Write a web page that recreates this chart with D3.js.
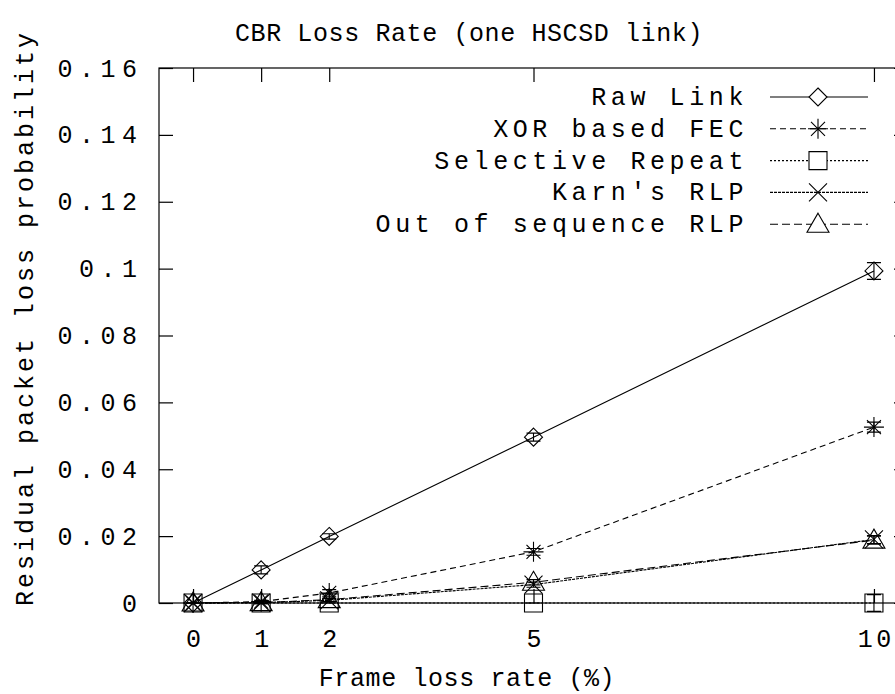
<!DOCTYPE html>
<html>
<head>
<meta charset="utf-8">
<script src="https://cdn.jsdelivr.net/npm/d3@7"></script>
<style>
  body { margin: 0; background: #fff; }
  svg text { font-family: "Liberation Mono", "DejaVu Sans Mono", monospace; font-size: 25px; fill: #000; }
  .ytick text { letter-spacing: 6.5px; }
  .xtick text { letter-spacing: 3.5px; }
  .legend text { letter-spacing: 4.6px; }
  .title { letter-spacing: 0.6px; }
  .ylabel { letter-spacing: 3px; }
</style>
</head>
<body>
<svg id="chart" width="895" height="694"></svg>
<script>
// values
const frameLoss = [0, 1, 2, 5, 10]
const yTicks = [0, 0.02, 0.04, 0.06, 0.08, 0.1, 0.12, 0.14, 0.16]
const yTickLabels = ['0', '0.02', '0.04', '0.06', '0.08', '0.1', '0.12', '0.14', '0.16']

const seriesNames = ['Raw Link', 'XOR based FEC', 'Selective Repeat', "Karn's RLP", 'Out of sequence RLP']
const rawLink   = [0, 0.0099, 0.0199, 0.0496, 0.0993]
const rawErr    = [0, 0.0012, 0.0008, 0.0012, 0.0025]
const xorFec    = [0, 0.0004, 0.0030, 0.0153, 0.0526]
const xorErr    = [0, 0.0004, 0.0010, 0.0010, 0.0015]
const selRepeat = [0, 0, 0, 0, 0]
const selErr    = [0, 0, 0, 0, 0.0025]
const karnRlp   = [0, 0.0001, 0.0008, 0.0055, 0.0190]
const karnErr   = [0, 0.0003, 0.0005, 0.0008, 0.0012]
const oosRlp    = [0, 0.0001, 0.0010, 0.0062, 0.0188]
const oosErr    = [0, 0.0003, 0.0005, 0.0008, 0.0012]

const svg = d3.select('#chart')

const margin = {left: 159, right: 908, top: 68, bottom: 603}

const x = d3.scaleLinear().domain([-0.5, 10.5]).range([margin.left, margin.right])
const y = d3.scaleLinear().domain([0, 0.16]).range([margin.bottom, margin.top])

const series = [
    {name: seriesNames[0], vals: rawLink,   err: rawErr,  dash: null,  marker: 'diamond'},
    {name: seriesNames[1], vals: xorFec,    err: xorErr,  dash: '6,4', marker: 'star'},
    {name: seriesNames[2], vals: selRepeat, err: selErr,  dash: '2,2', marker: 'box'},
    {name: seriesNames[3], vals: karnRlp,   err: karnErr, dash: '3,1', marker: 'cross'},
    {name: seriesNames[4], vals: oosRlp,    err: oosErr,  dash: '8,4', marker: 'triangle'}
]

const markers = {
    diamond:  'M0,-9L9,0L0,9L-9,0Z',
    star:     'M-10,0H10M0,-10V10M-7,-7L7,7M-7,7L7,-7',
    box:      'M-9,-9H9V9H-9Z',
    cross:    'M-9,-9L9,9M-9,9L9,-9',
    triangle: 'M0,-11L11,8H-11Z'
}

// frame + inward ticks on every side
svg.append('rect')
    .attr('x', margin.left).attr('y', margin.top)
    .attr('width', margin.right - margin.left).attr('height', margin.bottom - margin.top)
    .attr('fill', 'none').attr('stroke', '#000').attr('stroke-width', 1.2)

const tickLen = 14

const gl = svg.append('g').attr('class', 'ytick').attr('transform', `translate(${margin.left},0)`)
    .call(d3.axisLeft(y).tickValues(yTicks).tickSizeInner(-tickLen).tickSizeOuter(0)
        .tickPadding(tickLen + 8).tickFormat((d, i) => yTickLabels[i]))
const gr = svg.append('g').attr('transform', `translate(${margin.right},0)`)
    .call(d3.axisRight(y).tickValues(yTicks).tickSizeInner(-tickLen).tickSizeOuter(0).tickFormat(''))
const gb = svg.append('g').attr('class', 'xtick').attr('transform', `translate(0,${margin.bottom})`)
    .call(d3.axisBottom(x).tickValues(frameLoss).tickSizeInner(-tickLen).tickSizeOuter(0)
        .tickPadding(tickLen + 12).tickFormat(d => d))
const gt = svg.append('g').attr('transform', `translate(0,${margin.top})`)
    .call(d3.axisTop(x).tickValues(frameLoss).tickSizeInner(-tickLen).tickSizeOuter(0).tickFormat(''))

;[gl, gr, gb, gt].forEach(g => {
    g.select('.domain').remove()
    g.selectAll('line').attr('stroke', '#000').attr('stroke-width', 1.2)
    g.selectAll('text').attr('font-family', null).attr('font-size', null).attr('fill', '#000')
})
gl.selectAll('text').attr('dx', 6.5)
gb.selectAll('text').attr('dx', 1.75)

// titles
svg.append('text').attr('class', 'title').attr('x', 469).attr('y', 41).attr('text-anchor', 'middle')
    .text('CBR Loss Rate (one HSCSD link)')
svg.append('text').attr('class', 'title').attr('x', 467).attr('y', 686).attr('text-anchor', 'middle')
    .text('Frame loss rate (%)')
svg.append('text').attr('class', 'ylabel').attr('transform', 'translate(33,318) rotate(-90)').attr('text-anchor', 'middle')
    .text('Residual packet loss probability')

// data
const line = d3.line().x(d => x(d[0])).y(d => y(d[1]))
const plot = svg.append('g')

series.forEach(s => {
    const pts = frameLoss.map((f, i) => [f, s.vals[i], s.err[i]])
    const g = plot.append('g')

    g.append('path')
        .attr('d', line(pts))
        .attr('fill', 'none').attr('stroke', '#000').attr('stroke-width', 1.1)
        .attr('stroke-dasharray', s.dash)

    // error bars
    g.selectAll('.err').data(pts).enter().append('path')
        .attr('d', d => {
            let cx = x(d[0]), y0 = y(d[1] - d[2]), y1 = y(d[1] + d[2])
            return `M${cx},${y0}V${y1}M${cx - 7},${y0}H${cx + 7}M${cx - 7},${y1}H${cx + 7}`
        })
        .attr('fill', 'none').attr('stroke', '#000').attr('stroke-width', 1.1)

    g.selectAll('.mk').data(pts).enter().append('path')
        .attr('d', markers[s.marker])
        .attr('transform', d => `translate(${x(d[0])},${y(d[1])})`)
        .attr('fill', 'none').attr('stroke', '#000').attr('stroke-width', 1.1)
})

// legend
const legend = svg.append('g').attr('class', 'legend')
series.forEach((s, i) => {
    let ly = 97 + i * 31.8
    legend.append('text').attr('x', 748).attr('y', ly + 8).attr('text-anchor', 'end')
        .text(s.name)
    legend.append('path').attr('d', `M770,${ly}H868`)
        .attr('stroke', '#000').attr('stroke-width', 1.1).attr('stroke-dasharray', s.dash)
    legend.append('path').attr('d', markers[s.marker])
        .attr('transform', `translate(818,${ly})`)
        .attr('fill', s.marker == 'star' ? 'none' : '#fff').attr('stroke', '#000').attr('stroke-width', 1.1)
})
</script>
</body>
</html>
